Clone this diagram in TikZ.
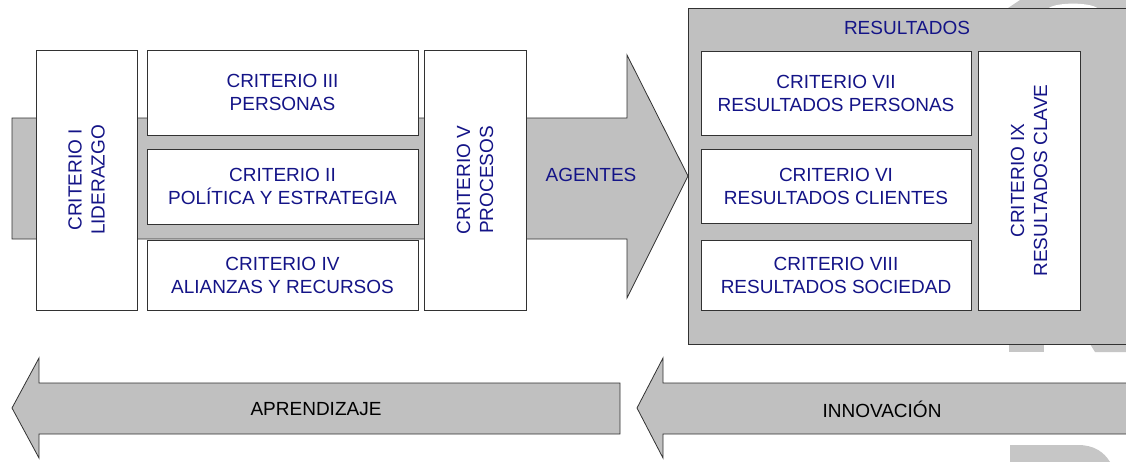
\documentclass[tikz,border=0pt]{standalone}
\usepackage{fontspec}
\setmainfont{Liberation Sans}
\definecolor{navy}{RGB}{20,20,135}
\definecolor{panel}{RGB}{192,192,192}
\definecolor{ghost}{RGB}{198,198,198}
\definecolor{edge}{RGB}{50,50,50}
\tikzset{
  shade/.style={fill=panel, draw=edge, line width=0.8pt},
  box/.style={draw=edge, fill=white, line width=0.8pt, text=navy, align=center,
              font=\fontsize{19}{23}\selectfont, inner sep=0pt},
  tag/.style={font=\fontsize{19}{23}\selectfont, inner sep=0pt, align=center},
}
\begin{document}
\begin{tikzpicture}[x=1pt, y=-1pt]
\clip (0,0) rectangle (1126,461);
\fill[white] (0,0) rectangle (1126,461);

% faint background lettering at the right edge
\fill[ghost] (1008,8) -- (1020,0) -- (1126,0) -- (1126,8) -- cycle;
\fill[white] (1048,8.5) .. controls (1056,2) and (1090,2) .. (1098,8.5) -- cycle;
\fill[ghost] (1009,344) rectangle (1044,352);
\fill[ghost] (1090,344) -- (1126,344) -- (1126,352) -- (1095,352) -- cycle;
\fill[ghost] (1010,462) -- (1010,445) -- (1078,445)
  .. controls (1094,445) and (1104,452) .. (1110,462) -- cycle;

% main arrow: enablers towards results
\draw[shade] (12,118) -- (627,118) -- (627,55) -- (688,176) -- (627,298)
  -- (627,239) -- (12,239) -- cycle;
\node[tag, text=navy] (agentes) at (591,175) {AGENTES};

% results panel
\draw[shade] (688,8) rectangle (1140,344);
\node[tag, text=navy] (resultados) at (907,28) {RESULTADOS};

% enabler criteria
\node[box, rotate=90, minimum width=260, minimum height=101] (c1) at (86.5,180)
  {CRITERIO I\\LIDERAZGO};
\node[box, minimum width=271, minimum height=85] (c3) at (282.5,92.5)
  {CRITERIO III\\PERSONAS};
\node[box, minimum width=271, minimum height=75] (c2) at (282.5,186.5)
  {CRITERIO II\\POLÍTICA Y ESTRATEGIA};
\node[box, minimum width=271, minimum height=70] (c4) at (282.5,275)
  {CRITERIO IV\\ALIANZAS Y RECURSOS};
\node[box, rotate=90, minimum width=260, minimum height=102] (c5) at (475,180)
  {CRITERIO V\\PROCESOS};

% result criteria
\node[box, minimum width=270, minimum height=84] (c7) at (836,93)
  {CRITERIO VII\\RESULTADOS PERSONAS};
\node[box, minimum width=270, minimum height=74] (c6) at (836,186)
  {CRITERIO VI\\RESULTADOS CLIENTES};
\node[box, minimum width=270, minimum height=70] (c8) at (836,275)
  {CRITERIO VIII\\RESULTADOS SOCIEDAD};
\node[box, rotate=90, minimum width=259, minimum height=102] (c9) at (1029,180.5)
  {CRITERIO IX\\RESULTADOS CLAVE};

% feedback arrows
\draw[shade] (12,408) -- (39,358) -- (39,383) -- (620,383) -- (620,434)
  -- (39,434) -- (39,458) -- cycle;
\node[tag] (aprendizaje) at (316,409) {APRENDIZAJE};
\draw[shade] (637,408) -- (663,358) -- (663,383) -- (1140,383) -- (1140,434)
  -- (663,434) -- (663,458) -- cycle;
\node[tag] (innovacion) at (882,409) {INNOVACIÓN};
\end{tikzpicture}
\end{document}
